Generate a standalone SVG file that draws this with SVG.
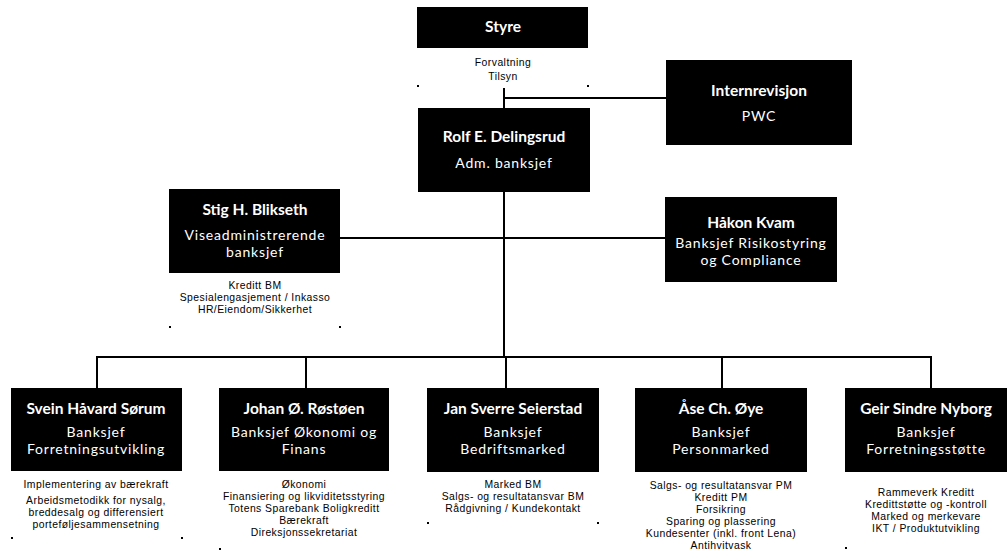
<svg xmlns="http://www.w3.org/2000/svg" width="1008" height="555" viewBox="0 0 1008 555">
<style>
.box{fill:#000}
.nm{font-family:Lato,"Open Sans",sans-serif;font-weight:bold;font-size:15.5px;fill:#fff;text-anchor:middle}
.tt{font-family:Lato,"Open Sans",sans-serif;font-size:14px;fill:#fff;text-anchor:middle;letter-spacing:0.8px}
.sm{font-family:"Liberation Sans",Arial,sans-serif;font-size:10.4px;fill:#000;text-anchor:middle;letter-spacing:0.45px}
.ln{stroke:#000;stroke-width:2;fill:none}
.dot{fill:#000}
</style>
<rect width="1008" height="555" fill="#fff"/>
<g id="connectors">
<path class="ln" d="M504 88 V108"/>
<path class="ln" d="M504 98 H666"/>
<path class="ln" d="M504 192 V357"/>
<path class="ln" d="M340 238 H665"/>
<path class="ln" d="M97 357 H931"/>
<path class="ln" d="M97 356 V388"/>
<path class="ln" d="M306 356 V388"/>
<path class="ln" d="M506 356 V388"/>
<path class="ln" d="M722 356 V388"/>
<path class="ln" d="M931 356 V388"/>
</g>
<g id="styre">
<rect class="box" x="417" y="7" width="171" height="41"/>
<text class="nm" x="503" y="32">Styre</text>
<text class="sm" x="503" y="66">Forvaltning</text>
<text class="sm" x="503" y="80">Tilsyn</text>
<rect class="dot" x="417" y="85" width="2" height="2"/>
<rect class="dot" x="587" y="85" width="2" height="2"/>
</g>
<g id="internrevisjon">
<rect class="box" x="666" y="60" width="186" height="85"/>
<text class="nm" x="759" y="96">Internrevisjon</text>
<text class="tt" x="759" y="121">PWC</text>
</g>
<g id="rolf">
<rect class="box" x="418" y="108" width="172" height="84"/>
<text class="nm" x="504" y="142">Rolf E. Delingsrud</text>
<text class="tt" x="504" y="168">Adm. banksjef</text>
</g>
<g id="stig">
<rect class="box" x="169" y="189" width="171" height="84"/>
<text class="nm" x="255" y="215">Stig H. Blikseth</text>
<text class="tt" x="255" y="240">Viseadministrerende</text>
<text class="tt" x="255" y="257">banksjef</text>
<text class="sm" x="255" y="289">Kreditt BM</text>
<text class="sm" x="255" y="301">Spesialengasjement / Inkasso</text>
<text class="sm" x="255" y="313">HR/Eiendom/Sikkerhet</text>
<rect class="dot" x="169" y="326" width="2" height="2"/>
<rect class="dot" x="339" y="326" width="2" height="2"/>
</g>
<g id="hakon">
<rect class="box" x="665" y="197" width="172" height="85"/>
<text class="nm" x="751" y="228">Håkon Kvam</text>
<text class="tt" x="751" y="248">Banksjef Risikostyring</text>
<text class="tt" x="751" y="265">og Compliance</text>
</g>
<g id="svein">
<rect class="box" x="11" y="388" width="171" height="83"/>
<text class="nm" x="96" y="414">Svein Håvard Sørum</text>
<text class="tt" x="96" y="437">Banksjef</text>
<text class="tt" x="96" y="454">Forretningsutvikling</text>
<text class="sm" x="96" y="488">Implementering av bærekraft</text>
<text class="sm" x="96" y="504">Arbeidsmetodikk for nysalg,</text>
<text class="sm" x="96" y="516">breddesalg og differensiert</text>
<text class="sm" x="96" y="528">porteføljesammensetning</text>
<rect class="dot" x="11" y="537" width="2" height="2"/>
<rect class="dot" x="181" y="537" width="2" height="2"/>
</g>
<g id="johan">
<rect class="box" x="219" y="388" width="170" height="83"/>
<text class="nm" x="304" y="414">Johan Ø. Røstøen</text>
<text class="tt" x="304" y="437">Banksjef Økonomi og</text>
<text class="tt" x="304" y="454">Finans</text>
<text class="sm" x="304" y="488">Økonomi</text>
<text class="sm" x="304" y="500">Finansiering og likviditetsstyring</text>
<text class="sm" x="304" y="512">Totens Sparebank Boligkreditt</text>
<text class="sm" x="304" y="524">Bærekraft</text>
<text class="sm" x="304" y="536">Direksjonssekretariat</text>
<rect class="dot" x="219" y="548" width="2" height="2"/>
</g>
<g id="jan">
<rect class="box" x="427" y="388" width="172" height="84"/>
<text class="nm" x="513" y="414">Jan Sverre Seierstad</text>
<text class="tt" x="513" y="437">Banksjef</text>
<text class="tt" x="513" y="454">Bedriftsmarked</text>
<text class="sm" x="513" y="488">Marked BM</text>
<text class="sm" x="513" y="500">Salgs- og resultatansvar BM</text>
<text class="sm" x="513" y="512">Rådgivning / Kundekontakt</text>
<rect class="dot" x="427" y="522" width="2" height="2"/>
<rect class="dot" x="597" y="522" width="2" height="2"/>
</g>
<g id="ase">
<rect class="box" x="635" y="388" width="172" height="84"/>
<text class="nm" x="721" y="414">Åse Ch. Øye</text>
<text class="tt" x="721" y="437">Banksjef</text>
<text class="tt" x="721" y="454">Personmarked</text>
<text class="sm" x="721" y="489">Salgs- og resultatansvar PM</text>
<text class="sm" x="721" y="501">Kreditt PM</text>
<text class="sm" x="721" y="513">Forsikring</text>
<text class="sm" x="721" y="525">Sparing og plassering</text>
<text class="sm" x="721" y="537">Kundesenter (inkl. front Lena)</text>
<text class="sm" x="721" y="549">Antihvitvask</text>
</g>
<g id="geir">
<rect class="box" x="845" y="388" width="162" height="84"/>
<text class="nm" x="926" y="414">Geir Sindre Nyborg</text>
<text class="tt" x="926" y="437">Banksjef</text>
<text class="tt" x="926" y="454">Forretningsstøtte</text>
<text class="sm" x="926" y="496">Rammeverk Kreditt</text>
<text class="sm" x="926" y="508">Kredittstøtte og -kontroll</text>
<text class="sm" x="926" y="520">Marked og merkevare</text>
<text class="sm" x="926" y="532">IKT / Produktutvikling</text>
<rect class="dot" x="845" y="547" width="2" height="2"/>
</g>
</svg>
